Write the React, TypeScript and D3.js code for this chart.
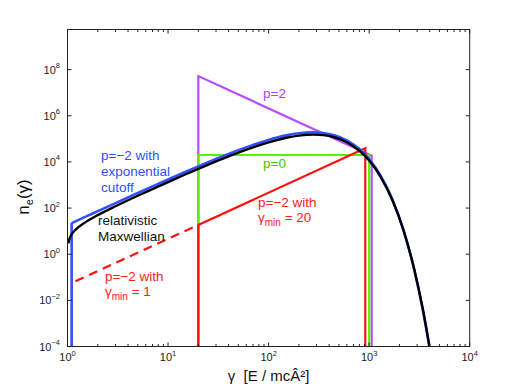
import React from "react";
import * as d3 from "d3";

// ---------- data (log10 of n_e) ----------
const blueGamma = [1.1, 1.1, 1.5, 2, 3, 5, 7, 10, 15, 20, 30, 50, 70, 100, 150, 200, 277, 350, 450, 600, 800, 1000, 1300, 1700, 2200, 2800, 3400, 3960];
const blueLogN = [-4, 1.349, 1.618, 1.866, 2.215, 2.652, 2.938, 3.239, 3.575, 3.809, 4.13, 4.511, 4.74, 4.955, 5.15, 5.243, 5.283, 5.257, 5.16, 4.938, 4.558, 4.123, 3.407, 2.381, 1.032, -0.648, -2.367, -3.997];

const blackGamma = [1.02, 1.05, 1.1, 1.2, 1.5, 2, 3, 5, 7, 10, 15, 20, 30, 50, 70, 100, 150, 200, 280, 350, 450, 600, 800, 1000, 1300, 1700, 2200, 2800, 3400, 4000];
const blackLogN = [0.469, 0.683, 0.859, 1.057, 1.38, 1.693, 2.079, 2.534, 2.824, 3.127, 3.465, 3.7, 4.021, 4.403, 4.633, 4.85, 5.047, 5.142, 5.185, 5.162, 5.07, 4.855, 4.484, 4.058, 3.355, 2.348, 1.021, -0.632, -2.324, -4.044];

const purpleGamma = [20, 20, 1060, 1060];
const purpleLogN = [-4, 7.72, 4.27, -4];

const greenGamma = [20, 20, 1000, 1000];
const greenLogN = [-4, 4.3, 4.3, -4];

const redGamma = [20, 20, 915, 915];
const redLogN = [-4, 1.27, 4.59, -4];

const redDashGamma = [1.2, 20];
const redDashLogN = [-1.174, 1.27];

const xTickExp = [0, 1, 2, 3, 4];
const yTickExp = [-4, -2, 0, 2, 4, 6, 8];

const W = 519, H = 390;
const left = 67.5, right = 469.7, top = 29.5, bottom = 346.5;
const FONT = "'Liberation Sans', Arial, Helvetica, sans-serif";

export default function App() {
  const x = d3.scaleLog().domain([1, 1e4]).range([left, right]);
  const y = d3.scaleLog().domain([1e-4, Math.pow(10, 9.74)]).range([bottom, top]);

  const line = d3
    .line<[number, number]>()
    .x((d) => x(d[0]))
    .y((d) => y(Math.pow(10, d[1])));

  const pts = (g: number[], l: number[]) => g.map((v, i) => [v, l[i]] as [number, number]);
  const curve = d3
    .line<[number, number]>()
    .x((d) => x(d[0]))
    .y((d) => y(Math.pow(10, d[1])))
    .curve(d3.curveMonotoneX);

  const minorX: number[] = [];
  for (let e = 0; e < 4; e++) for (let m = 2; m <= 9; m++) minorX.push(m * Math.pow(10, e));

  const axisColor = "#222";

  return (
    <svg width={W} height={H} style={{ position: "absolute", left: 0, top: 0, background: "#fff" }} fontFamily={FONT}>
      <defs>
        <clipPath id="plot">
          <rect x={left} y={top} width={right - left} height={bottom - top} />
        </clipPath>
      </defs>
      <rect x={0} y={0} width={W} height={H} fill="#fff" />
      <g clipPath="url(#plot)" fill="none" strokeLinejoin="miter">
        <path d={line(pts(purpleGamma, purpleLogN)) || ""} stroke="#b94cff" strokeWidth={2.2} />
        <path d={line(pts(greenGamma, greenLogN)) || ""} stroke="#5cf000" strokeWidth={2.2} />
        <path d={line(pts(redGamma, redLogN)) || ""} stroke="#ff1010" strokeWidth={2.2} />
        <path d={line(pts(redDashGamma, redDashLogN)) || ""} stroke="#ff1010" strokeWidth={2.2} strokeDasharray="9,6" />
        <path d={line(pts(blueGamma.slice(0, 2), blueLogN.slice(0, 2))) || ""} stroke="#3050ff" strokeWidth={2.6} />
        <path d={curve(pts(blueGamma.slice(1), blueLogN.slice(1))) || ""} stroke="#3050ff" strokeWidth={2.6} />
        <path d={curve(pts(blackGamma, blackLogN)) || ""} stroke="#000" strokeWidth={2.4} />
      </g>

      {/* axes box */}
      <rect x={left} y={top} width={right - left} height={bottom - top} fill="none" stroke={axisColor} strokeWidth={1} />

      {/* x ticks */}
      {xTickExp.map((e) => {
        const xx = x(Math.pow(10, e));
        return (
          <g key={"xt" + e}>
            <line x1={xx} x2={xx} y1={bottom} y2={bottom - 4} stroke={axisColor} />
            <line x1={xx} x2={xx} y1={top} y2={top + 4} stroke={axisColor} />
            <text x={xx} y={361} textAnchor="middle" fontSize={11} fill="#222">
              10<tspan dy={-5.5} fontSize={7.5}>{e}</tspan>
            </text>
          </g>
        );
      })}
      {minorX.map((v, i) => (
        <g key={"mx" + i}>
          <line x1={x(v)} x2={x(v)} y1={bottom} y2={bottom - 2.5} stroke={axisColor} />
          <line x1={x(v)} x2={x(v)} y1={top} y2={top + 2.5} stroke={axisColor} />
        </g>
      ))}

      {/* y ticks */}
      {yTickExp.map((e) => {
        const yy = y(Math.pow(10, e));
        return (
          <g key={"yt" + e}>
            <line x1={left} x2={left + 4} y1={yy} y2={yy} stroke={axisColor} />
            <line x1={right} x2={right - 4} y1={yy} y2={yy} stroke={axisColor} />
            <text x={60} y={yy + 4} textAnchor="end" fontSize={11} fill="#222">
              10<tspan dy={-5.5} fontSize={7.5}>{e < 0 ? "−" + -e : e}</tspan>
            </text>
          </g>
        );
      })}

      {/* axis labels */}
      <text x={(left + right) / 2} y={381} textAnchor="middle" fontSize={15} fill="#111" style={{ whiteSpace: "pre" }}>
        {"γ  [E / mcÂ²]"}
      </text>
      <text transform="translate(29,197) rotate(-90)" textAnchor="middle" fontSize={17} fill="#111">
        n<tspan dy={4} fontSize={11}>e</tspan>
        <tspan dy={-4}>(γ)</tspan>
      </text>

      {/* annotations */}
      <text x={263} y={98} fontSize={13.5} fill="#b040ff">p=2</text>
      <text x={263} y={168} fontSize={13.5} fill="#40c800">p=0</text>

      <g fontSize={13.5} fill="#3050ff">
        <text x={101} y={160}>p=−2 with</text>
        <text x={101} y={176}>exponential</text>
        <text x={101} y={192}>cutoff</text>
      </g>

      <g fontSize={13.5} fill="#111">
        <text x={98} y={225}>relativistic</text>
        <text x={98} y={241}>Maxwellian</text>
      </g>

      <g fontSize={13.5} fill="#ff2020">
        <text x={105} y={281}>p=−2 with</text>
        <text x={105} y={296}>
          γ<tspan dy={4} fontSize={10}>min</tspan>
          <tspan dy={-4}> = 1</tspan>
        </text>
        <text x={258} y={207}>p=−2 with</text>
        <text x={258} y={222}>
          γ<tspan dy={4} fontSize={10}>min</tspan>
          <tspan dy={-4}> = 20</tspan>
        </text>
      </g>
    </svg>
  );
}
